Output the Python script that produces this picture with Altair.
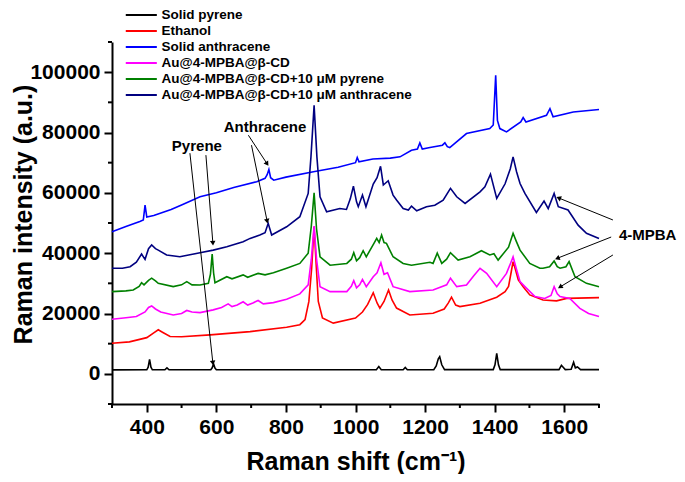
import math
import altair as alt
import pandas as pd

series_names = [
    "Solid pyrene",
    "Ethanol",
    "Solid anthracene",
    "Au@4-MPBA@β-CD",
    "Au@4-MPBA@β-CD+10 μM pyrene",
    "Au@4-MPBA@β-CD+10 μM anthracene",
]
series_colors = ["#000000", "#FF0000", "#0000FF", "#FF00FF", "#008000", "#000080"]

pyrene_x = [300, 400, 404, 408, 412, 416, 452, 458, 464, 584, 588, 592, 596, 600, 1060, 1067, 1074,
            1137, 1143, 1149, 1225, 1232, 1238, 1242, 1248, 1256, 1396, 1401, 1406, 1411, 1416,
            1585, 1592, 1597, 1603, 1620, 1627, 1632, 1638, 1642, 1647, 1700]
pyrene_y = [1300, 1350, 2200, 4800, 2200, 1350, 1350, 2000, 1350, 1350, 2000, 3300, 1900, 1350, 1350, 2400, 1350,
            1350, 2100, 1350, 1400, 2600, 5000, 5700, 3000, 1400, 1400, 3000, 6800, 3000, 1400,
            1400, 2800, 2200, 1400, 1500, 3800, 2000, 2300, 1900, 1400, 1400]

ethanol_x = [300, 350, 400, 420, 433, 445, 467, 500, 582, 697, 802, 840, 855, 866, 874, 881, 887, 893, 905,
             936, 1000, 1020, 1035, 1051, 1062, 1070, 1082, 1095, 1105, 1118, 1156, 1223, 1255, 1267, 1276,
             1288, 1300, 1358, 1406, 1430, 1440, 1448, 1453, 1460, 1468, 1482, 1501, 1539, 1578, 1607, 1700]
ethanol_y = [10150, 10600, 12000, 13600, 14600, 13800, 12400, 12300, 12900, 14000, 15450, 16300, 18000, 24000,
             35000, 48750, 36000, 24000, 18500, 16800, 18500, 20500, 23000, 26900, 23500, 21800, 24000, 27800,
             24500, 21800, 19500, 20100, 21500, 23500, 25400, 22800, 22300, 23400, 25400, 27200, 29000, 34000,
             37200, 34500, 31100, 28900, 26150, 24500, 24200, 25000, 25250]

anthracene_x = [300, 340, 380, 390, 395, 400, 420, 470, 500, 553, 600, 650, 716, 740, 746, 751, 756, 765, 800,
                879, 950, 1000, 1005, 1010, 1050, 1100, 1128, 1161, 1178, 1185, 1192, 1214, 1250, 1257, 1264,
                1271, 1319, 1386, 1396, 1403, 1408, 1415, 1434, 1475, 1482, 1490, 1549, 1559, 1568, 1626, 1700]
anthracene_y = [47100, 48800, 50500, 51000, 55900, 52000, 52500, 54500, 56000, 58700, 60000, 61800, 63700, 64800,
                66000, 67750, 65000, 64200, 65200, 66960, 68500, 70000, 71700, 70300, 71200, 71500, 71930, 74100,
                74500, 76560, 74500, 75000, 75800, 76600, 75300, 75000, 79650, 81300, 82500, 99000, 84000, 81300,
                80200, 83500, 84960, 83500, 85700, 87900, 85200, 86800, 87600]

mpba_x = [300, 340, 370, 395, 405, 414, 425, 440, 476, 500, 515, 530, 553, 591, 615, 634, 645, 660, 677, 690,
          705, 720, 735, 764, 802, 840, 864, 873, 881, 888, 898, 927, 975, 988, 995, 1003, 1012, 1020, 1031,
          1051, 1062, 1073, 1082, 1092, 1108, 1156, 1223, 1262, 1273, 1291, 1319, 1340, 1358, 1377, 1406, 1434,
          1447, 1453, 1462, 1473, 1487, 1516, 1544, 1562, 1571, 1580, 1588, 1616, 1645, 1670, 1700]
mpba_y = [18100, 18600, 19000, 20500, 22000, 22500, 21500, 20500, 19500, 20000, 21000, 20500, 20300, 21200, 22000,
          23200, 22300, 22800, 23900, 22800, 23500, 24300, 23200, 23600, 24700, 26500, 29500, 38000, 49000, 38000,
          28900, 27250, 27250, 29000, 30900, 28500, 29500, 31300, 28900, 32200, 33500, 36800, 33000, 33500, 28900,
          27250, 27800, 29500, 31700, 28900, 29460, 32500, 35000, 33300, 28900, 33300, 37000, 38800, 35000, 30550,
          28900, 25600, 25000, 26000, 28900, 26500, 25600, 25000, 21700, 20000, 19000]

mpba_pyr_x = [300, 340, 361, 378, 385, 392, 405, 414, 425, 433, 476, 500, 515, 530, 553, 577, 583, 588, 592, 596,
              630, 645, 677, 690, 720, 740, 764, 802, 840, 864, 873, 881, 888, 898, 927, 975, 988, 995, 1003,
              1012, 1022, 1031, 1053, 1061, 1068, 1075, 1082, 1089, 1108, 1137, 1161, 1214, 1223, 1235, 1248,
              1262, 1273, 1295, 1329, 1362, 1386, 1398, 1410, 1440, 1453, 1462, 1473, 1501, 1530, 1539, 1558,
              1571, 1580, 1588, 1605, 1614, 1631, 1664, 1700]
mpba_pyr_y = [27250, 27500, 27800, 29000, 30200, 29500, 31000, 31700, 30800, 30000, 28900, 29500, 30550, 29500,
              29460, 30000, 33000, 39700, 33500, 30200, 32200, 31500, 32800, 32000, 33300, 32800, 33500, 35000,
              36600, 40000, 49000, 60000, 48000, 38800, 36000, 36600, 38000, 40150, 37500, 38500, 40800, 38800,
              43260, 44900, 43500, 46000, 43500, 43260, 38800, 36600, 36000, 37000, 36600, 40000, 36600, 38000,
              40150, 37700, 38800, 40800, 39400, 39800, 37700, 42000, 46600, 44000, 41000, 36600, 35000, 35000,
              35500, 37400, 35500, 35000, 35500, 37200, 32200, 30000, 28900]

mpba_ant_x = [300, 330, 352, 370, 385, 395, 405, 414, 425, 433, 457, 495, 553, 591, 630, 677, 697, 725, 740, 749,
              759, 802, 840, 864, 872, 881, 889, 898, 917, 955, 974, 985, 994, 1003, 1008, 1020, 1030, 1051, 1062,
              1072, 1080, 1094, 1108, 1118, 1137, 1152, 1161, 1176, 1204, 1228, 1252, 1273, 1291, 1315, 1358,
              1372, 1388, 1406, 1430, 1445, 1453, 1463, 1473, 1487, 1520, 1542, 1554, 1571, 1583, 1611, 1640,
              1664, 1700]
mpba_ant_y = [35000, 35000, 35500, 37000, 39700, 37950, 41500, 42700, 41500, 41000, 39400, 38800, 40150, 41000,
              42100, 43800, 44900, 46000, 46800, 49900, 46000, 48750, 52100, 59800, 72000, 89000, 72000, 58700,
              53700, 54800, 54500, 58000, 62200, 57000, 55400, 59250, 55400, 62900, 65000, 68800, 62600, 64000,
              59250, 57600, 54800, 54300, 55600, 54060, 55400, 55900, 57600, 61500, 58700, 56500, 60350, 62000,
              66200, 58150, 63000, 68000, 71930, 67000, 63100, 59800, 53500, 57260, 54800, 59800, 55400, 54300,
              49300, 46600, 44900]

series_x = [pyrene_x, ethanol_x, anthracene_x, mpba_x, mpba_pyr_x, mpba_ant_x]
series_y = [pyrene_y, ethanol_y, anthracene_y, mpba_y, mpba_pyr_y, mpba_ant_y]

# annotations
label_text = ["Pyrene", "Anthracene", "4-MPBA"]
label_x = [544, 740, 1840]
label_y = [75500, 81760, 46000]

arrow_x1 = [524, 570, 692, 701, 1740, 1735, 1740]
arrow_y1 = [73150, 72500, 79100, 75800, 51000, 45350, 39400]
arrow_x2 = [590, 590, 746, 746, 1584, 1580, 1588]
arrow_y2 = [3600, 43300, 69600, 50600, 58300, 38300, 28800]

x_major_ticks = list(range(400, 1601, 200))
x_minor_ticks = list(range(300, 1701, 200))
y_major_ticks = list(range(0, 100001, 20000))
y_minor_ticks = list(range(-10000, 110001, 20000))

W, H = 487, 362
X_DOM = [300, 1700]
Y_DOM = [-10000, 110000]

rows = []
for name, xs, ys in zip(series_names, series_x, series_y):
    for xv, yv in zip(xs, ys):
        rows.append({"series": name, "x": xv, "y": yv})
df = pd.DataFrame(rows)

sx = W / (X_DOM[1] - X_DOM[0])
sy = H / (Y_DOM[1] - Y_DOM[0])
arrows = []
for a, b, c, d in zip(arrow_x1, arrow_y1, arrow_x2, arrow_y2):
    dxs = (c - a) * sx
    dys = -(d - b) * sy
    ang = math.degrees(math.atan2(dxs, -dys)) % 360
    arrows.append({"x1": a, "y1": b, "x2": c, "y2": d, "angle": ang})
adf = pd.DataFrame(arrows)
ldf = pd.DataFrame({"text": label_text, "x": label_x, "y": label_y})
xmdf = pd.DataFrame({"v": x_minor_ticks})
ymdf = pd.DataFrame({"v": y_minor_ticks})

FONT = "Liberation Sans"
xscale = alt.Scale(domain=X_DOM, nice=False, zero=False)
yscale = alt.Scale(domain=Y_DOM, nice=False, zero=False)

common_axis = dict(
    domainColor="black", domainWidth=2, tickColor="black", tickWidth=2, tickSize=8,
    labelFont=FONT, labelFontWeight="bold", labelFontSize=21, labelColor="black",
    titleFont=FONT, titleFontWeight="bold", titleFontSize=25, titleColor="black",
    grid=False, labelOverlap=False, format="d", labelPadding=4,
)

x_axis = alt.Axis(
    values=x_major_ticks, labelFlush=False,
    title="Raman shift (cm⁻¹)", titleX=243.5, titleY=57, titleAlign="center", titleBaseline="middle",
    **common_axis,
)
y_axis = alt.Axis(
    values=y_major_ticks,
    title="Raman intensity (a.u.)", titleAngle=270, titleX=-89, titleY=172,
    titleAlign="center", titleBaseline="middle",
    **common_axis,
)

lines = alt.Chart(df).mark_line(strokeWidth=1.6).encode(
    x=alt.X("x:Q", scale=xscale, axis=x_axis),
    y=alt.Y("y:Q", scale=yscale, axis=y_axis),
    color=alt.Color(
        "series:N",
        scale=alt.Scale(domain=series_names, range=series_colors),
        sort=series_names,
        legend=alt.Legend(
            title=None, orient="none", legendX=19.8, legendY=-36.5,
            symbolType="M-1.85,0H1.85", symbolSize=282, symbolStrokeWidth=2,
            labelFont=FONT, labelFontWeight="bold", labelFontSize=13.5, labelColor="black",
            labelOffset=10.7, rowPadding=0, padding=0, labelLimit=400,
        ),
    ),
    detail="series:N",
)

x_minor = alt.Chart(xmdf).mark_rule(color="black", strokeWidth=2).encode(
    x=alt.X("v:Q", scale=xscale), y=alt.value(H), y2=alt.value(H + 4),
)
y_minor = alt.Chart(ymdf).mark_rule(color="black", strokeWidth=2).encode(
    y=alt.Y("v:Q", scale=yscale), x=alt.value(0), x2=alt.value(-4),
)

arrow_lines = alt.Chart(adf).mark_rule(color="black", strokeWidth=1).encode(
    x=alt.X("x1:Q", scale=xscale), y=alt.Y("y1:Q", scale=yscale),
    x2="x2:Q", y2="y2:Q",
)
arrow_heads = alt.Chart(adf).mark_point(shape="triangle-up", filled=True, color="black", size=30, opacity=1).encode(
    x=alt.X("x2:Q", scale=xscale), y=alt.Y("y2:Q", scale=yscale),
    angle=alt.Angle("angle:Q", scale=None),
)
labels = alt.Chart(ldf).mark_text(font=FONT, fontWeight="bold", fontSize=15, color="black",
                                  align="center", baseline="middle").encode(
    x=alt.X("x:Q", scale=xscale), y=alt.Y("y:Q", scale=yscale), text="text:N",
)

chart = alt.layer(lines, x_minor, y_minor, arrow_lines, arrow_heads, labels).properties(
    width=W, height=H,
    autosize=alt.AutoSizeParams(type="none"),
    padding={"left": 104, "top": 34, "right": 78, "bottom": 70},
).configure_view(stroke=None)

chart.save("out.html", embed_options={"renderer": "svg", "actions": False})
